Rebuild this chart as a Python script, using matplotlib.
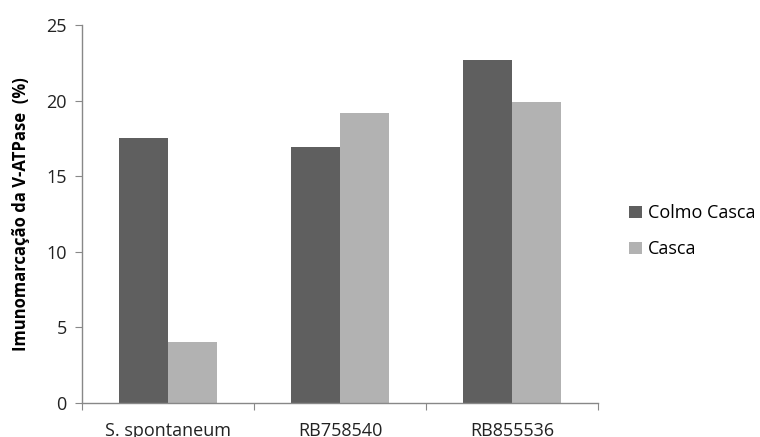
import matplotlib
matplotlib.use("Agg")
import matplotlib.pyplot as plt
import numpy as np
from matplotlib.patches import Patch

categories = ["S. spontaneum", "RB758540", "RB855536"]
colmo_casca = [17.5, 16.9, 22.7]
casca = [4.05, 19.2, 19.9]
series_names = ["Colmo Casca", "Casca"]
yticks = [0, 5, 10, 15, 20, 25]

plt.rcParams['font.family'] = ['Open Sans', 'DejaVu Sans']

fig = plt.figure(figsize=(7.6, 4.37), dpi=100)
ax = fig.add_axes([82/760, 1-403/437, (598-82)/760, (403-25)/437])

x = np.arange(len(categories))
w = 0.2857
c1, c2 = "#5f5f5f", "#b2b2b2"
ax.bar(x - w/2, colmo_casca, width=w, color=c1)
ax.bar(x + w/2, casca, width=w, color=c2)

ax.set_xlim(-0.5, len(categories) - 0.5)
ax.set_ylim(0, 25)
ax.set_yticks(yticks)
ax.set_yticklabels([str(t) for t in yticks], fontsize=13, color="#222222")

ax.set_xticks(np.arange(len(categories) + 1) - 0.5)
ax.set_xticklabels([])
ax.set_xticks(x, minor=True)
ax.set_xticklabels(categories, minor=True, fontsize=13, color="#222222")
ax.tick_params(axis='x', which='minor', length=0, pad=14)
ax.tick_params(axis='x', which='major', length=5, color="#888888", direction='out')
ax.tick_params(axis='y', length=5, color="#888888", direction='out', pad=6)

for s in ["top", "right"]:
    ax.spines[s].set_visible(False)
for s in ["left", "bottom"]:
    ax.spines[s].set_color("#888888")
    ax.spines[s].set_linewidth(1.0)

ax.set_ylabel("Imunomarcação da V-ATPase  (%)", fontsize=12, fontweight='bold')
ax.yaxis.set_label_coords(-0.1, 0.5)

handles = [Patch(facecolor=c1), Patch(facecolor=c2)]
leg = fig.legend(handles, series_names, loc='upper left', bbox_to_anchor=(622/760, 1-197/437),
                 frameon=False, fontsize=13, handlelength=0.7, handleheight=0.7,
                 handletextpad=0.35, labelspacing=1.0, borderaxespad=0)

fig.savefig("out.png", dpi=100)
